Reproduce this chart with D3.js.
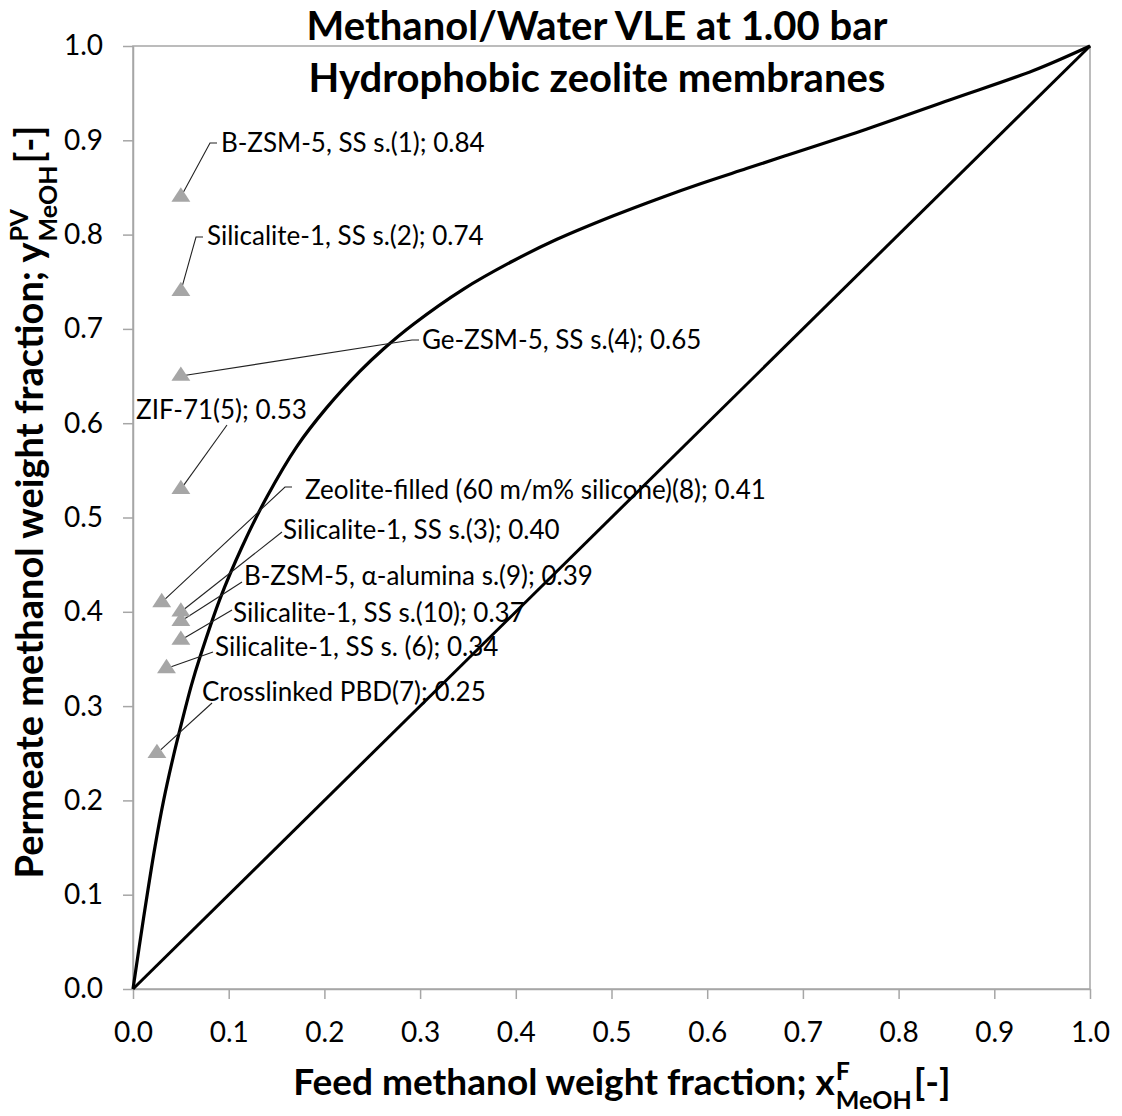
<!DOCTYPE html>
<html>
<head>
<meta charset="utf-8">
<script src="https://cdn.jsdelivr.net/npm/d3@7"></script>
<style>
  body { margin: 0; background: #fff; }
  text { font-family: Lato, "Open Sans", sans-serif; fill: #000; }
</style>
</head>
<body>
<svg id="chart" width="1122" height="1116"></svg>
<script>
// ---- data ----------------------------------------------------------------
const xTickValues = [0, 0.1, 0.2, 0.3, 0.4, 0.5, 0.6, 0.7, 0.8, 0.9, 1.0];
const yTickValues = [0, 0.1, 0.2, 0.3, 0.4, 0.5, 0.6, 0.7, 0.8, 0.9, 1.0];

// Vapour-liquid equilibrium curve, methanol/water at 1.00 bar (weight fractions)
const vleX = [0, 0.011, 0.023, 0.032, 0.042, 0.049, 0.061, 0.070, 0.091, 0.114,
              0.140, 0.171, 0.202, 0.237, 0.262, 0.293, 0.345, 0.397, 0.443,
              0.502, 0.554, 0.593, 0.641, 0.680, 0.767, 0.854, 0.941, 1.0];
const vleY = [0, 0.075, 0.151, 0.200, 0.246, 0.275, 0.322, 0.352, 0.414, 0.469,
              0.522, 0.575, 0.616, 0.655, 0.679, 0.705, 0.742, 0.772, 0.795,
              0.820, 0.840, 0.854, 0.870, 0.883, 0.912, 0.943, 0.974, 1.0];

// y = x reference line
const diagonalX = [0, 1];
const diagonalY = [0, 1];

// Pervaporation results of hydrophobic membranes
const membraneNames = [
  "B-ZSM-5, SS s.(1)",
  "Silicalite-1, SS s.(2)",
  "Ge-ZSM-5, SS s.(4)",
  "ZIF-71(5)",
  "Zeolite-filled (60 m/m% silicone)(8)",
  "Silicalite-1, SS s.(3)",
  "B-ZSM-5, \u03b1-alumina s.(9)",
  "Silicalite-1, SS s.(10)",
  "Silicalite-1, SS s. (6)",
  "Crosslinked PBD(7)"
];
const membraneFeedX = [0.05, 0.05, 0.05, 0.05, 0.03, 0.05, 0.05, 0.05, 0.035, 0.025];
const membranePermeateY = [0.84, 0.74, 0.65, 0.53, 0.41, 0.40, 0.39, 0.37, 0.34, 0.25];

// ---- layout --------------------------------------------------------------
// label text start [x, y] and leader start [x, y] (pixels), plus whether the
// leader begins with a short horizontal stub
const labelLayout = [
  { tx: 221, ty: 143, lx: 217, ly: 143, stub: true },
  { tx: 207, ty: 236, lx: 203, ly: 237, stub: true },
  { tx: 422, ty: 340, lx: 419, ly: 340, stub: true },
  { tx: 136, ty: 410, lx: 227, ly: 425, stub: false },
  { tx: 305, ty: 490, lx: 292, ly: 487, stub: true },
  { tx: 283, ty: 530, lx: 282, ly: 532, stub: false },
  { tx: 244, ty: 576, lx: 242, ly: 582, stub: false },
  { tx: 233, ty: 613, lx: 232, ly: 610, stub: false },
  { tx: 215, ty: 647, lx: 213, ly: 652, stub: false },
  { tx: 202, ty: 692, lx: 212, ly: 703, stub: false }
];

const svg = d3.select("#chart");
const plot = { left: 133, right: 1090, top: 46, bottom: 989 };
const axisGrey = "#a6a6a6";

const x = d3.scaleLinear().domain([0, 1]).range([plot.left, plot.right]);
const y = d3.scaleLinear().domain([0, 1]).range([plot.bottom, plot.top]);

// plot-area frame
svg.append("rect")
  .attr("x", plot.left).attr("y", plot.top)
  .attr("width", plot.right - plot.left).attr("height", plot.bottom - plot.top)
  .attr("fill", "none").attr("stroke", axisGrey).attr("stroke-width", 1.5);

// axes
const fmt = d3.format(".1f");
const xAxis = svg.append("g")
  .attr("transform", `translate(0,${plot.bottom})`)
  .call(d3.axisBottom(x).tickValues(xTickValues).tickFormat(fmt)
        .tickSize(10).tickSizeOuter(0).tickPadding(23));
const yAxis = svg.append("g")
  .attr("transform", `translate(${plot.left},0)`)
  .call(d3.axisLeft(y).tickValues(yTickValues).tickFormat(fmt)
        .tickSize(10).tickSizeOuter(0).tickPadding(20));
[xAxis, yAxis].forEach(a => {
  a.select(".domain").attr("stroke", axisGrey).attr("stroke-width", 1.5);
  a.selectAll(".tick line").attr("stroke", axisGrey).attr("stroke-width", 1.5);
  a.selectAll(".tick text").attr("font-size", 28).attr("font-family", "Lato").attr("fill", "#000");
});

// curves
const straight = d3.line().x(d => x(d[0])).y(d => y(d[1]));
svg.append("path")
  .datum(diagonalX.map((v, i) => [v, diagonalY[i]]))
  .attr("d", straight)
  .attr("fill", "none").attr("stroke", "#000").attr("stroke-width", 3);
const smooth = d3.line().x(d => x(d[0])).y(d => y(d[1]))
  .curve(d3.curveCatmullRom.alpha(0.5));
svg.append("path")
  .datum(vleX.map((v, i) => [v, vleY[i]]))
  .attr("d", smooth)
  .attr("fill", "none").attr("stroke", "#000").attr("stroke-width", 3.2)
  .attr("stroke-linejoin", "round");

// leader lines
const leaders = svg.append("g");
membraneNames.forEach((name, i) => {
  const L = labelLayout[i];
  const px = x(membraneFeedX[i]), py = y(membranePermeateY[i]);
  const sx = L.stub ? L.lx - 7 : L.lx;
  const sy = L.ly;
  const dx = sx - px, dy = sy - py, len = Math.hypot(dx, dy);
  const ex = px + dx / len * 5, ey = py + dy / len * 5;
  const pts = L.stub ? [[L.lx, L.ly], [sx, sy], [ex, ey]] : [[sx, sy], [ex, ey]];
  leaders.append("path")
    .attr("d", d3.line()(pts))
    .attr("fill", "none").attr("stroke", "#222").attr("stroke-width", 1.1);
});

// markers
const tri = d3.symbol().type(d3.symbolTriangle).size(140);
svg.append("g").selectAll("path")
  .data(membraneNames.map((n, i) => [membraneFeedX[i], membranePermeateY[i]]))
  .join("path")
  .attr("d", tri)
  .attr("transform", d => `translate(${x(d[0])},${y(d[1])}) scale(1.05,0.92)`)
  .attr("fill", "#a6a6a6");

// data labels
svg.append("g").selectAll("text")
  .data(membraneNames)
  .join("text")
  .attr("x", (d, i) => labelLayout[i].tx)
  .attr("y", (d, i) => labelLayout[i].ty)
  .attr("dy", "0.36em")
  .attr("font-size", 26)
  .text((d, i) => `${d}; ${membranePermeateY[i].toFixed(2)}`);

// title
const title = svg.append("g");
title.append("text").attr("x", 597).attr("y", 40).attr("text-anchor", "middle")
  .attr("font-size", 40).attr("font-weight", 700).text("Methanol/Water VLE at 1.00 bar");
title.append("text").attr("x", 597).attr("y", 92).attr("text-anchor", "middle")
  .attr("font-size", 40).attr("font-weight", 700).text("Hydrophobic zeolite membranes");

// axis titles with stacked super/subscripts
function axisTitle(g, main, sup, sub, tail, size, smallSize) {
  const t = g.append("text").attr("font-size", size).attr("font-weight", 700).text(main);
  const w = t.node().getComputedTextLength();
  const s1 = g.append("text").attr("x", w + 1).attr("y", -15)
    .attr("font-size", smallSize).attr("font-weight", 700).text(sup);
  const s2 = g.append("text").attr("x", w + 1).attr("y", 14)
    .attr("font-size", smallSize).attr("font-weight", 700).text(sub);
  const ws = Math.max(s1.node().getComputedTextLength(), s2.node().getComputedTextLength());
  const t2 = g.append("text").attr("x", w + ws + 3).attr("font-size", size)
    .attr("font-weight", 700).text(tail);
  return w + ws + 3 + t2.node().getComputedTextLength();
}

const xTitle = svg.append("g");
const xw = axisTitle(xTitle, "Feed methanol weight fraction; x", "F", "MeOH", "[-]", 37, 25);
xTitle.attr("transform", `translate(${622 - xw / 2},1095)`);

const yTitle = svg.append("g");
const yw = axisTitle(yTitle, "Permeate methanol weight fraction; y", "PV", "MeOH", "[-]", 38, 25);
yTitle.attr("transform", `translate(43,${502 + yw / 2}) rotate(-90)`);
</script>
</body>
</html>
